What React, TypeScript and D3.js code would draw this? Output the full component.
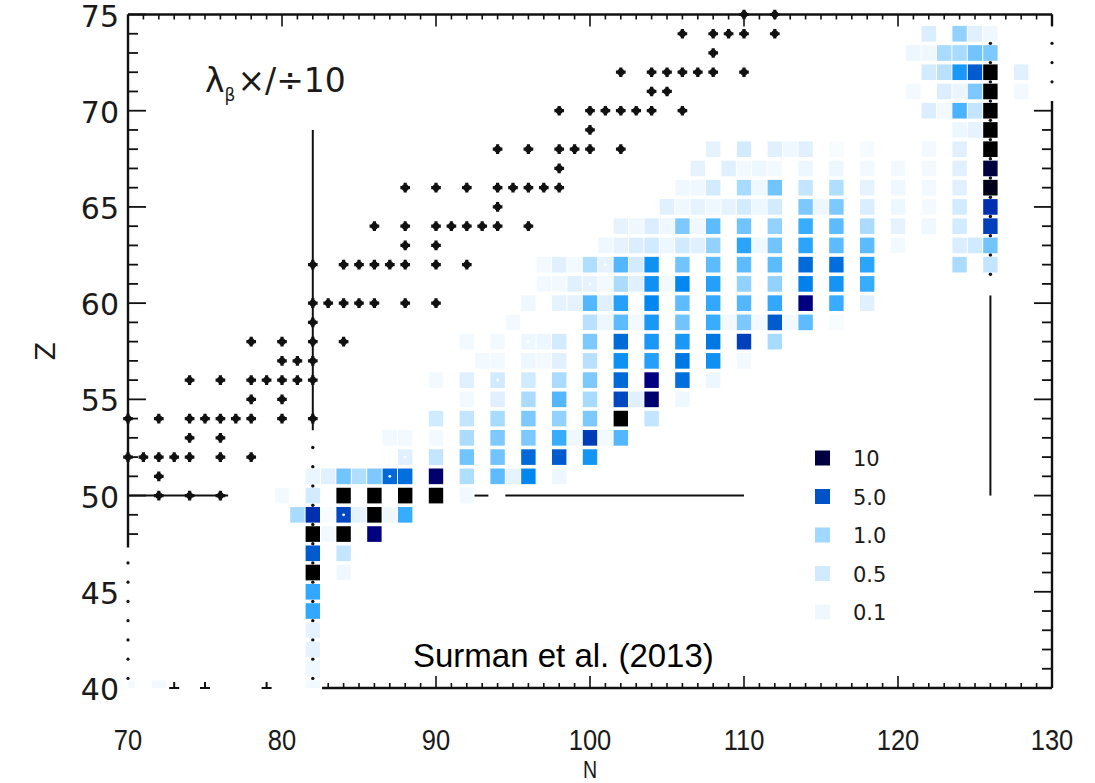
import React, { useEffect, useRef } from 'react';
import * as d3 from 'd3';

const nDomain = [70, 130];
const zDomain = [40, 75];
const nTickLabels = [70, 80, 90, 100, 110, 120, 130];
const zTickLabels = [40, 45, 50, 55, 60, 65, 70, 75];

// [N, Z, lambda_beta sensitivity]
const cells: [number, number, number][] = [
  [122, 74, 0.35], [124, 74, 1.1], [125, 74, 0.3], [126, 74, 0.1],
  [121, 73, 0.12], [122, 73, 0.1], [123, 73, 0.9], [124, 73, 0.9], [125, 73, 1.4], [126, 73, 1.3],
  [122, 72, 0.45], [123, 72, 0.7], [124, 72, 2.5], [125, 72, 4.6], [126, 72, 20], [128, 72, 0.3],
  [121, 71, 0.08], [123, 71, 0.35], [124, 71, 0.15], [125, 71, 1.3], [126, 71, 20], [128, 71, 0.08],
  [122, 70, 0.35], [123, 70, 0.08], [124, 70, 1.8], [125, 70, 0.6], [126, 70, 20],
  [124, 69, 0.12], [125, 69, 0.2], [126, 69, 20],
  [108, 68, 0.2], [110, 68, 0.45], [112, 68, 0.3], [113, 68, 0.1], [114, 68, 0.3], [116, 68, 0.06],
  [118, 68, 0.07], [122, 68, 0.08], [124, 68, 0.3], [126, 68, 20],
  [107, 67, 0.2], [109, 67, 0.3], [110, 67, 0.08], [111, 67, 0.12], [112, 67, 0.08], [114, 67, 0.12],
  [116, 67, 0.12], [118, 67, 0.08], [120, 67, 0.08], [122, 67, 0.08], [124, 67, 0.3], [126, 67, 10],
  [106, 66, 0.1], [107, 66, 0.1], [108, 66, 0.45], [110, 66, 0.9], [111, 66, 0.1], [112, 66, 1.4],
  [114, 66, 0.6], [116, 66, 0.8], [118, 66, 0.2], [120, 66, 0.1], [122, 66, 0.08], [124, 66, 0.3], [126, 66, 15],
  [105, 65, 0.3], [106, 65, 0.1], [107, 65, 0.2], [108, 65, 0.1], [109, 65, 0.2], [110, 65, 0.45],
  [111, 65, 0.12], [112, 65, 0.45], [114, 65, 1.3], [115, 65, 0.12], [116, 65, 1.3], [118, 65, 0.35],
  [120, 65, 0.12], [122, 65, 0.08], [124, 65, 0.45], [126, 65, 7],
  [102, 64, 0.2], [103, 64, 0.1], [104, 64, 0.35], [105, 64, 0.1], [106, 64, 1.3], [107, 64, 0.1],
  [108, 64, 1.6], [110, 64, 1.4], [112, 64, 1.1], [114, 64, 2.0], [116, 64, 1.6], [118, 64, 0.85],
  [120, 64, 0.2], [122, 64, 0.1], [124, 64, 0.45], [126, 64, 6],
  [101, 63, 0.1], [102, 63, 0.2], [103, 63, 0.35], [104, 63, 0.5], [105, 63, 0.12], [106, 63, 0.5],
  [107, 63, 0.3], [108, 63, 1.1], [110, 63, 2.2], [111, 63, 0.1], [112, 63, 1.4], [114, 63, 2.2],
  [116, 63, 1.6], [118, 63, 1.6], [120, 63, 0.08], [124, 63, 0.35], [125, 63, 0.5], [126, 63, 1.4],
  [97, 62, 0.08], [98, 62, 0.3], [99, 62, 0.08], [100, 62, 0.8], [101, 62, 0.2], [102, 62, 1.7],
  [103, 62, 0.45], [104, 62, 2.7], [106, 62, 1.4], [108, 62, 1.6], [110, 62, 1.6], [112, 62, 1.6],
  [114, 62, 4], [116, 62, 3.8], [118, 62, 2.2], [124, 62, 0.85], [126, 62, 0.6],
  [97, 61, 0.08], [98, 61, 0.08], [99, 61, 0.3], [100, 61, 0.2], [101, 61, 0.08], [102, 61, 0.85],
  [103, 61, 0.3], [104, 61, 2.7], [105, 61, 0.08], [106, 61, 3], [108, 61, 2.3], [110, 61, 1.1],
  [112, 61, 1.1], [114, 61, 3.2], [116, 61, 2.6], [118, 61, 2],
  [96, 60, 0.1], [98, 60, 0.2], [99, 60, 0.2], [100, 60, 1.7], [101, 60, 0.3], [102, 60, 2.3],
  [104, 60, 3], [106, 60, 1.6], [108, 60, 2.1], [110, 60, 1.7], [112, 60, 2.1], [114, 60, 9],
  [116, 60, 2], [118, 60, 0.3],
  [95, 59, 0.08], [100, 59, 0.7], [101, 59, 0.12], [102, 59, 1.6], [103, 59, 0.08], [104, 59, 2.5],
  [106, 59, 1.4], [108, 59, 2], [109, 59, 0.08], [110, 59, 1.3], [111, 59, 0.08], [112, 59, 4.6],
  [113, 59, 0.08], [114, 59, 1.6], [116, 59, 0.06],
  [92, 58, 0.08], [94, 58, 0.08], [96, 58, 0.12], [97, 58, 0.12], [98, 58, 0.45], [100, 58, 1.3],
  [102, 58, 4], [104, 58, 2.5], [106, 58, 2.5], [108, 58, 3.5], [110, 58, 6], [112, 58, 0.9],
  [93, 57, 0.08], [94, 57, 0.08], [96, 57, 0.12], [97, 57, 0.08], [98, 57, 0.3], [100, 57, 0.7],
  [102, 57, 2.7], [104, 57, 2.3], [106, 57, 3.5], [108, 57, 2.7], [110, 57, 0.08],
  [90, 56, 0.08], [92, 56, 0.3], [94, 56, 0.5], [96, 56, 0.5], [98, 56, 0.85], [100, 56, 1.3],
  [102, 56, 4], [104, 56, 9], [106, 56, 3.8], [108, 56, 0.12],
  [92, 55, 0.08], [94, 55, 0.3], [96, 55, 0.85], [98, 55, 1.7], [100, 55, 0.9], [102, 55, 5.5],
  [103, 55, 0.3], [104, 55, 9.3], [106, 55, 0.1],
  [90, 54, 0.5], [92, 54, 0.6], [94, 54, 0.9], [96, 54, 1.3], [98, 54, 1.1], [100, 54, 1.3],
  [102, 54, 20], [104, 54, 0.6],
  [87, 53, 0.08], [88, 53, 0.08], [90, 53, 0.08], [92, 53, 0.85], [94, 53, 1.3], [96, 53, 1.3],
  [98, 53, 2], [99, 53, 0.1], [100, 53, 6.3], [101, 53, 0.08], [102, 53, 1.7],
  [88, 52, 0.3], [90, 52, 0.6], [92, 52, 1.4], [94, 52, 1.4], [96, 52, 4], [98, 52, 4.6], [100, 52, 2.6],
  [82, 51, 0.15], [83, 51, 0.3], [84, 51, 1.4], [85, 51, 0.8], [86, 51, 1.3], [87, 51, 4],
  [88, 51, 3.8], [90, 51, 9.3], [92, 51, 0.8], [94, 51, 1.6], [95, 51, 0.2], [96, 51, 3], [98, 51, 0.12],
  [80, 50, 0.08], [82, 50, 0.45], [84, 50, 20], [86, 50, 20], [88, 50, 20], [90, 50, 20], [92, 50, 0.08],
  [81, 49, 0.9], [82, 49, 7], [83, 49, 0.06], [84, 49, 5.5], [85, 49, 0.2], [86, 49, 20], [87, 49, 0.1], [88, 49, 2],
  [82, 48, 20], [83, 48, 0.08], [84, 48, 20], [86, 48, 9],
  [82, 47, 4.6], [84, 47, 0.6],
  [82, 46, 20], [84, 46, 0.1],
  [82, 45, 2.1], [82, 44, 2.1], [82, 43, 0.2], [82, 42, 0.2], [82, 41, 0.1],
  [70, 40, 0.08], [72, 40, 0.08], [82, 40, 0.08],
];

// stable nuclei [N, Z]
const stable: [number, number][] = [
  [110, 75], [112, 75],
  [106, 74], [108, 74], [109, 74], [110, 74], [112, 74],
  [108, 73],
  [102, 72], [104, 72], [105, 72], [106, 72], [107, 72], [108, 72], [110, 72],
  [104, 71], [105, 71],
  [98, 70], [100, 70], [101, 70], [102, 70], [103, 70], [104, 70], [106, 70],
  [100, 69],
  [94, 68], [96, 68], [98, 68], [99, 68], [100, 68], [102, 68],
  [98, 67],
  [88, 66], [90, 66], [92, 66], [94, 66], [95, 66], [96, 66], [97, 66], [98, 66],
  [94, 65],
  [86, 64], [88, 64], [90, 64], [91, 64], [92, 64], [93, 64], [94, 64], [96, 64],
  [88, 63], [90, 63],
  [82, 62], [84, 62], [85, 62], [86, 62], [87, 62], [88, 62], [90, 62], [92, 62],
  [82, 60], [83, 60], [84, 60], [85, 60], [86, 60], [88, 60], [90, 60],
  [82, 59],
  [78, 58], [80, 58], [82, 58], [84, 58],
  [80, 57], [81, 57], [82, 57],
  [74, 56], [76, 56], [78, 56], [79, 56], [80, 56], [81, 56], [82, 56],
  [78, 55], [80, 55],
  [70, 54], [72, 54], [74, 54], [75, 54], [76, 54], [77, 54], [78, 54], [80, 54], [82, 54],
  [74, 53], [76, 53],
  [70, 52], [71, 52], [72, 52], [73, 52], [74, 52], [76, 52], [78, 52],
  [72, 51],
  [72, 50], [74, 50], [76, 50],
];

const whiteSpecks: [number, number][] = [
  [84, 49], [87, 51], [88, 52], [94, 56], [96, 58], [100, 61], [101, 62],
];

const bottomStubs = [73, 75, 79];

const legendValues = [10, 5.0, 1.0, 0.5, 0.1];
const legendLabels = ['10', '5.0', '1.0', '0.5', '0.1'];

const colorStops = [0.05, 0.1, 0.3, 0.5, 1, 1.5, 2, 3, 5, 7, 9, 10, 15, 20];
const colorRange = ['#fafdff', '#f0f8ff', '#e0f0ff', '#d0eaff', '#a0d8ff', '#68c0ff', '#38acff',
  '#0088f0', '#0052c8', '#0030b0', '#000080', '#000040', '#00001a', '#000000'];

const W = 1095;
const H = 783;

export default function App() {
  const ref = useRef<SVGSVGElement>(null);

  useEffect(() => {
    const svg = d3.select(ref.current);
    svg.selectAll('*').remove();

    const x = d3.scaleLinear().domain(nDomain).range([128, 1052]);
    const y = d3.scaleLinear().domain(zDomain).range([688, 14.5]);
    const color = d3.scaleLog<string>().domain(colorStops).range(colorRange).clamp(true);

    const ink = '#111';
    const g = svg.append('g');

    // frame pieces
    const seg = (x1: number, y1: number, x2: number, y2: number, w = 2) =>
      g.append('line').attr('x1', x1).attr('y1', y1).attr('x2', x2).attr('y2', y2)
        .attr('stroke', ink).attr('stroke-width', w);

    seg(x(70), y(75), x(130), y(75), 2.4);
    seg(x(70), y(47.3), x(70), y(75), 2.4);
    seg(x(130), y(40), x(130), y(70.5), 2.4);
    seg(x(130), y(75), x(130), y(74.4), 2.4);
    seg(x(82.6), y(40), x(130), y(40), 2.4);

    // ticks
    d3.range(70, 131).forEach(n => {
      const major = n % 10 === 0;
      const len = major ? 12 : 5;
      seg(x(n), y(75), x(n), y(75) + len, 1.6);
      if (n >= 83) seg(x(n), y(40), x(n), y(40) - len, 1.6);
    });
    d3.range(40, 76).forEach(z => {
      const major = z % 5 === 0;
      const len = major ? 18 : 10;
      if (z >= 48) seg(x(70), y(z), x(70) + len, y(z), 1.8);
      if (z <= 70) seg(x(130), y(z), x(130) - len, y(z), 1.8);
    });

    // dotted remnants of the frame
    d3.range(40.5, 47, 1).forEach(z => {
      g.append('circle').attr('cx', x(70)).attr('cy', y(z)).attr('r', 1.6).attr('fill', ink);
    });
    d3.range(71.5, 74, 1).forEach(z => {
      g.append('circle').attr('cx', x(130)).attr('cy', y(z)).attr('r', 1.6).attr('fill', ink);
    });
    bottomStubs.forEach(n => {
      seg(x(n) - 5, y(40), x(n) + 5, y(40), 2);
      seg(x(n), y(40), x(n), y(40) - 6, 2);
    });

    // shell closure lines
    seg(x(82), y(53.4), x(82), y(69));
    seg(x(70), y(50), x(76.5), y(50));
    seg(x(92.5), y(50), x(93.4), y(50));
    seg(x(94.5), y(50), x(110), y(50));
    seg(x(126), y(50), x(126), y(60.4));

    d3.range(40.5, 53, 1).forEach(z => {
      g.append('circle').attr('cx', x(82)).attr('cy', y(z)).attr('r', 1.7).attr('fill', ink);
    });
    d3.range(61.5, 74, 1).forEach(z => {
      g.append('circle').attr('cx', x(126)).attr('cy', y(z)).attr('r', 1.7).attr('fill', ink);
    });

    // sensitivity cells
    const cw = x(1) - x(0) - 1.0;
    const ch = y(0) - y(1) - 3.6;
    svg.append('clipPath').attr('id', 'plotclip')
      .append('rect').attr('x', x(70)).attr('y', y(75)).attr('width', x(130) - x(70)).attr('height', y(40) - y(75));

    svg.append('g').attr('clip-path', 'url(#plotclip)')
      .selectAll('rect')
      .data(cells)
      .enter()
      .append('rect')
      .attr('x', d => x(d[0]) - cw / 2)
      .attr('y', d => y(d[1]) - ch / 2)
      .attr('width', cw)
      .attr('height', ch)
      .attr('fill', d => color(d[2]));

    svg.append('g')
      .selectAll('circle')
      .data(whiteSpecks)
      .enter()
      .append('circle')
      .attr('cx', d => x(d[0]))
      .attr('cy', d => y(d[1]))
      .attr('r', 1.4)
      .attr('fill', '#fff');

    // stable nuclei
    const dots = svg.append('g');
    dots.selectAll('path')
      .data(stable)
      .enter()
      .append('path')
      .attr('transform', d => `translate(${x(d[0])},${y(d[1])})`)
      .attr('d', d3.symbol().type(d3.symbolCross).size(52)())
      .attr('fill', ink);
    dots.selectAll('circle')
      .data(stable)
      .enter()
      .append('circle')
      .attr('cx', d => x(d[0]))
      .attr('cy', d => y(d[1]))
      .attr('r', 3.4)
      .attr('fill', ink);

    // tick labels
    svg.append('g')
      .selectAll('text')
      .data(nTickLabels)
      .enter()
      .append('text')
      .attr('transform', d => `translate(${x(d)},750) scale(0.85,1)`)
      .attr('text-anchor', 'middle')
      .style('font-family', "'Liberation Sans', sans-serif")
      .style('font-size', '30px')
      .style('fill', '#1a1a1a')
      .text(d => d);

    svg.append('g')
      .selectAll('text')
      .data(zTickLabels)
      .enter()
      .append('text')
      .attr('x', 119)
      .attr('y', d => y(d) + 12)
      .attr('text-anchor', 'end')
      .style('font-family', "'DejaVu Sans', sans-serif")
      .style('font-size', '30px')
      .style('fill', '#1a1a1a')
      .text(d => d);

    svg.append('text')
      .attr('transform', `translate(${x(100)},778) scale(0.85,1)`)
      .attr('text-anchor', 'middle')
      .style('font-family', "'Liberation Sans', sans-serif")
      .style('font-size', '23px')
      .style('fill', '#1a1a1a')
      .text('N');

    svg.append('text')
      .attr('transform', `translate(55, ${y(57.5)}) rotate(-90)`)
      .attr('text-anchor', 'middle')
      .style('font-family', "'DejaVu Sans', sans-serif")
      .style('font-size', '27px')
      .style('fill', '#1a1a1a')
      .text('Z');

    // lambda label
    const lam = svg.append('text')
      .attr('x', 205)
      .attr('y', 92)
      .style('font-family', "'DejaVu Sans', sans-serif")
      .style('font-size', '33px')
      .style('fill', '#1a1a1a');
    lam.append('tspan').text('λ');
    lam.append('tspan').attr('dy', 9).style('font-size', '17px').text('β');
    lam.append('tspan').attr('dy', -9).attr('dx', 2).text('×/÷10');

    // legend
    const leg = svg.append('g');
    legendValues.forEach((v, i) => {
      const cy = 458 + i * 38.5;
      leg.append('rect')
        .attr('x', 815).attr('y', cy - 7.5).attr('width', 15).attr('height', 15)
        .attr('fill', color(v));
      leg.append('text')
        .attr('x', 853).attr('y', cy + 8)
        .style('font-family', "'DejaVu Sans', sans-serif")
        .style('font-size', '21px')
        .style('fill', '#1a1a1a')
        .text(legendLabels[i]);
    });

    svg.append('text')
      .attr('x', 413)
      .attr('y', 667)
      .style('font-family', "'Liberation Sans', sans-serif")
      .style('font-size', '33px')
      .style('fill', '#000')
      .text('Surman et al. (2013)');
  }, []);

  return (
    <svg ref={ref} width={W} height={H} style={{ position: 'absolute', left: 0, top: 0, background: '#fff' }} />
  );
}
